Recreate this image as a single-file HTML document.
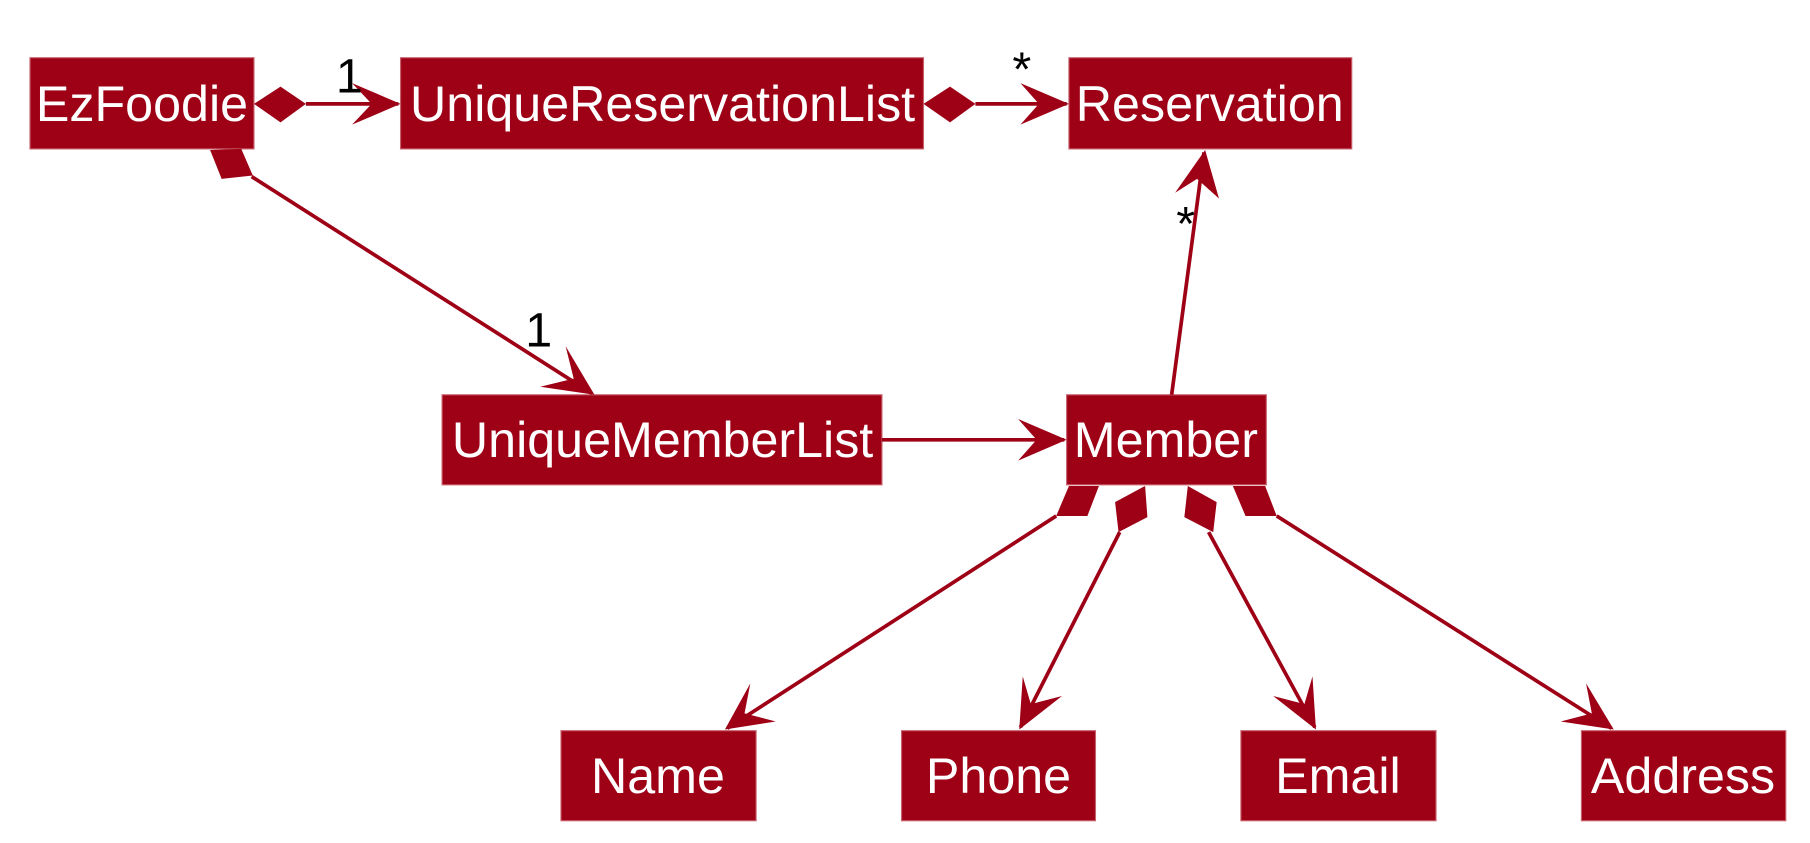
<!DOCTYPE html>
<html><head><style>
html,body{margin:0;padding:0;background:#fff;width:1810px;height:843px;overflow:hidden}
svg{display:block}
text{font-family:"Liberation Sans",sans-serif;fill:#fff;font-size:43.5px}
.l{fill:#000;font-size:42px}
</style></head><body>
<svg width="1810" height="843" viewBox="0 0 1568 730.3" preserveAspectRatio="none">
<g fill="#9e0016" stroke="#c8606c" stroke-width="1">
<rect x="26" y="50" width="194" height="79"/>
<rect x="347" y="50" width="453" height="79"/>
<rect x="926" y="50" width="245" height="79"/>
<rect x="383" y="342" width="381" height="78"/>
<rect x="924" y="342" width="173" height="78"/>
<rect x="486" y="633" width="169" height="78"/>
<rect x="781" y="633" width="168" height="78"/>
<rect x="1075" y="633" width="169" height="78"/>
<rect x="1370" y="633" width="177" height="78"/>
</g>
<g text-anchor="middle">
<text x="123" y="105">EzFoodie</text>
<text x="574" y="105">UniqueReservationList</text>
<text x="1048" y="105">Reservation</text>
<text x="574" y="396">UniqueMemberList</text>
<text x="1010" y="396">Member</text>
<text x="570" y="687">Name</text>
<text x="865" y="687">Phone</text>
<text x="1159" y="687">Email</text>
<text x="1458" y="687">Address</text>
</g>
<g stroke="#9e0016" stroke-width="3.2" fill="none">
<line x1="265" y1="90" x2="345" y2="90"/>
<line x1="845" y1="90" x2="924" y2="90"/>
<line x1="218" y1="153" x2="513" y2="341"/>
<line x1="764" y1="381" x2="922" y2="381"/>
<line x1="1015" y1="342" x2="1043" y2="132"/>
<line x1="915" y1="447" x2="630" y2="631"/>
<line x1="970" y1="461" x2="884" y2="630"/>
<line x1="1047" y1="461" x2="1139" y2="630"/>
<line x1="1106" y1="447" x2="1396" y2="631"/>
</g>
<g fill="#9e0016">
<polygon points="220,90 243,75 265,90 243,106"/>
<polygon points="347,90 305,72 322,90 305,108"/>
<polygon points="800,90 823,75 845,90 823,106"/>
<polygon points="926,90 884,72 900,90 884,108"/>
<polygon points="182,130 209,129 219,152 192,155"/>
<polygon points="515,342 490,300 497,328 468,335"/>
<polygon points="924,381 882,363 898,381 882,399"/>
<polygon points="1044,130 1018,167 1037,155 1056,172"/>
<polygon points="926,421 952,421 942,447 915,447"/>
<polygon points="628,632 650,592 645,618 672,625"/>
<polygon points="992,421 994,448 969,461 966,435"/>
<polygon points="883,632 886,586 893,610 920,603"/>
<polygon points="1029,421 1054,435 1051,461 1026,448"/>
<polygon points="1140,632 1103,603 1130,610 1137,586"/>
<polygon points="1068,421 1096,421 1106,447 1079,447"/>
<polygon points="1398,632 1352,625 1379,618 1374,592"/>
</g>
<text class="l" x="291" y="80">1</text>
<text class="l" x="877" y="74">*</text>
<text class="l" x="455" y="300">1</text>
<text class="l" x="1019" y="208">*</text>
</svg>
</body></html>
